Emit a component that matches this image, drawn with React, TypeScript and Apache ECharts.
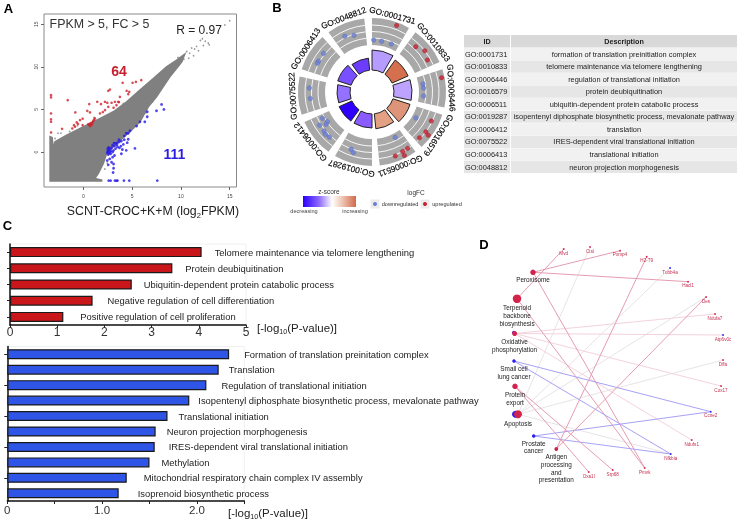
import React, { useEffect, useRef } from "react";
import * as echarts from "echarts";

const FONT = "Liberation Sans";

// Panel A: cloud outline and points, in log2 FPKM
const cloudOutline = [[-3.41,-3.4],[-3.41,1.8],[-3.2,1.7],[-3.07,0.43],[-2.9,1.21],[-1.71,1.99],[-0.34,2.77],[1.37,3.75],[3.07,4.73],[4.44,5.9],[5.8,7.27],[7.17,8.63],[8.53,10],[9.56,10.78],[10.4,11.5],[10.1,10.6],[9.9,10.3],[8.87,8.83],[7.5,6.48],[6.66,5.31],[5.8,3.55],[4.78,2.38],[3.41,1.02],[2.39,-0.16],[2.05,-1.33],[1.54,-2.5],[1.19,-3.09],[1.88,-3.3],[1.88,-3.4]];
const grayPoints = [[15,15.4],[14.5,14.9],[10.6,11.8],[10.9,11.6],[11.1,12.2],[11.4,12.1],[11.6,12.4],[12,13.1],[12.2,13.3],[12.5,13],[12.8,12.8],[12.9,12.6],[12.3,12.5],[11.8,11.9],[11.3,11.3],[10.8,11],[10.3,10.9],[10,10.7],[9.7,11.1],[3.5,4.9],[4.1,5.7],[7.9,7.5],[8.2,8.1],[8.5,8.9],[7.1,5.9],[6.4,4.6],[1.05,-2.6],[1.35,-2.1],[1.7,-1.4],[0.85,-3],[2.45,-1.3],[2.2,-2],[-2.6,2.2],[-2.3,2.2],[-2.9,1.6],[-1.4,2.4],[-0.6,3.1],[1.1,4.05]];
const redPoints = [[-3.31,6.68],[-3.31,6.41],[-3.31,4.53],[-3.31,3.83],[-3.31,3.55],[-3.31,2.3],[-1.6,6.09],[-2.18,2.73],[-0.82,4.65],[-1.13,2.77],[-0.96,3.16],[-0.68,3.48],[-0.34,3.75],[-0.07,3.91],[-0.85,2.97],[-0.07,3.16],[0.61,5.63],[0.68,4.65],[0.41,4.84],[0.51,3.28],[0.68,3.05],[0.89,3.28],[1.02,3.67],[1.19,3.95],[1.43,5.9],[1.81,5.63],[2.22,5.9],[2.56,7.19],[2.73,7.34],[2.46,5.78],[2.9,5.78],[3.24,5.9],[3.58,5.9],[3.75,6.48],[2.22,4.92],[2.56,5.31],[1.71,4.53],[4.03,8.13],[4.44,7.19],[4.71,7.07],[4.61,6.8],[5.05,8.13],[5.39,8.24],[5.94,8.44],[0.75,3.4],[0.6,3.2],[0.95,3.5],[1.1,3.8],[0.8,3.15],[-0.55,3.3],[3.1,5.2],[3.4,5.5],[3.65,5.85],[2.0,4.7]];
const bluePoints = [[2.6,-3.35],[2.8,-3.35],[3.24,-3.35],[3.4,-3.35],[3.5,-3.35],[4.16,-3.35],[4.71,-3.35],[7.58,-3.35],[8.02,5.59],[8.26,5],[7.5,4.84],[6.55,4.73],[6.55,4.14],[6.3,3.55],[5.8,3.55],[5.46,3.05],[5.29,0.43],[4.78,2.5],[4.6,2.2],[4.4,2.2],[4.2,1.9],[4.5,1.1],[4.6,1.5],[4.1,0.9],[3.9,1.3],[3.7,1.2],[3.5,1.1],[3.3,1],[3.2,0.7],[3,0.8],[2.9,0.5],[2.7,0.4],[2.6,0.2],[2.5,0.1],[2.45,-0.1],[2.55,-0.3],[2.7,0],[2.8,-0.2],[3,0],[3.1,0.2],[3.3,0.4],[3.5,0.6],[3.7,0.5],[4,0.3],[3.9,-0.2],[3.2,-0.4],[3,-0.6],[2.7,-0.8],[2.9,-1.2],[3.1,-1.4],[3.1,-1.9],[3.05,-2.4],[2.55,-1.5],[2.45,-1],[4.4,0.2],[3.85,0.7],[2.6,0.55],[2.5,0.4],[2.65,-0.15],[2.85,0.15],[3.15,1.05],[3.45,0.85],[4.2,1.45],[3.65,1.45]];

// Panel B
const goIds = ["GO:0001731","GO:0010833","GO:0006446","GO:0016579","GO:0006511","GO:0019287","GO:0006412","GO:0075522","GO:0006413","GO:0048812"];
const goDescriptions = ["formation of translation preinitiation complex","telomere maintenance via telomere lengthening","regulation of translational initiation","protein deubiquitination","ubiquitin-dependent protein catabolic process","isopentenyl diphosphate biosynthetic process, mevalonate pathway","translation","IRES-dependent viral translational initiation","translational initiation","neuron projection morphogenesis"];
const goBarHeights = [42,39.5,40,40,37,36,36,35,36,34];
const goBarColors = ["#B79CFF","#D5704F","#BDA3FF","#DE9478","#E4A083","#8A5CFF","#3000FF","#9472FF","#7A4FFF","#6C3DFF"];
const upDots = [[71,20.3],[63,44],[67,52],[64,60],[71,78.4],[66,116],[67,126.5],[71,127.6],[66,134],[66.7,147.7],[67,152.8],[71.4,153],[68,160]];
const downDots = [[52,1.8],[51.6,10.8],[51.8,21.9],[51.6,81],[51.8,85.6],[51.8,94.4],[51,120.6],[51,153],[61,200],[63.5,197],[56,242],[62,237.7],[53.6,236.4],[56,234.9],[61.8,230.9],[63,227.8],[62,223.5],[62.8,273.6],[62,264],[62,308.5],[61.7,300],[61.7,297.7],[62,334],[59.5,342.4]];

// Panel C
const redTerms = ["Telomere maintenance via telomere lengthening","Protein deubiquitination","Ubiquitin-dependent protein catabolic process","Negative regulation of cell differentiation","Positive regulation of cell proliferation"];
const redValues = [4.06,3.44,2.58,1.75,1.13];
const redLabelGaps = [13,13,12,15,17];
const blueTerms = ["Formation of translation preinitation complex","Translation","Regulation of translational initiation","Isopentenyl diphosphate biosynthetic process, mevalonate pathway","Translational initiation","Neuron projection morphogenesis","IRES-dependent viral translational initiation","Methylation","Mitochondrial respiratory chain complex IV assembly","Isoprenoid biosynthetic process"];
const blueValues = [2.34,2.23,2.10,1.92,1.69,1.565,1.555,1.5,1.26,1.175];
const blueLabelGaps = [15,10,15,9,11,11,14,12,17,19];

// Panel D: [name, x, y, size, colour, label lines, label gap]
const R = "#D2234C", B = "#2A1EF0";
const pathwayNodes: any[] = [
  ["Peroxisome",533,272.3,5.5,R,"Peroxisome",1],
  ["Terpenoid",517,298.7,8.5,R,"Terpenoid\nbackbone\nbiosynthesis",1],
  ["OxidativeB",513.8,332.6,3.5,B,"",0],
  ["Oxidative",514.6,333.5,5,R,"Oxidative\nphosphorylation",2],
  ["SmallCell",514,361,3.5,B,"Small cell\nlung cancer",2],
  ["ProteinExport",515,386.3,5.5,R,"Protein\nexport",1.5],
  ["ApoptosisB",515.5,414.3,7,B,"",0],
  ["Apoptosis",518,414.3,8,R,"Apoptosis",1.5],
  ["Prostate",533.7,436,3.5,B,"Prostate\ncancer",1.5],
  ["Antigen",556.3,449,3.8,R,"Antigen\nprocessing\nand\npresentation",2],
];
const geneNodes: any[] = [
  ["Mvd",563.7,249,R],["Ctsl",590,247,R],["Pxmp4",620,250.7,R],["H2-T9",646.7,256.7,R],["Tubb4a",670,268,B],
  ["Hacl1",688,281.7,R],["Des",706,297,R],["Ndufa7",715,314,R],["Atp6v0c",723,335,B],["Dffa",723,360,R],
  ["Cox17",721,386,R],["Ccne2",710.7,411.7,B],["Ndufs1",691.7,440,R],["Nfkbia",670.7,454,B],["Pmvk",644.7,468,R],
  ["Srp68",612.7,470,R],["Oxa1l",588.7,472,R],
];
const PINK = "#E59DB1", LIGHT = "#F3D3DC", BLUE = "#A7A2F6", GREY = "#E8E4E7";
const edgeList: [string,string,string][] = [
  ["Apoptosis","Ctsl",GREY],["Apoptosis","Tubb4a",GREY],["Apoptosis","Des",GREY],["Apoptosis","Dffa",GREY],["Apoptosis","Nfkbia",GREY],
  ["Oxidative","Ndufa7",LIGHT],["Oxidative","Atp6v0c",LIGHT],["Oxidative","Cox17",LIGHT],["Oxidative","Ndufs1",LIGHT],
  ["Peroxisome","Pxmp4",PINK],["Peroxisome","Hacl1",PINK],["Peroxisome","Pmvk",PINK],
  ["Terpenoid","Mvd",PINK],["Terpenoid","Pmvk",PINK],
  ["SmallCell","Ccne2",BLUE],["SmallCell","Nfkbia",BLUE],["Prostate","Ccne2",BLUE],["Prostate","Nfkbia",BLUE],
  ["ProteinExport","Srp68",PINK],["ProteinExport","Oxa1l",PINK],
  ["Antigen","H2-T9",PINK],["Antigen","Des",PINK],
];

const SECTOR = 36, SPAN = 30;
const rad = (deg: number) => ((deg - 90) * Math.PI) / 180;

function centerOf(params: any) {
  return { cx: params.coordSys.cx, cy: params.coordSys.cy };
}

function buildOption(): any {
  const text = (x: number, y: number, t: string, fontSize: number, extra: any = {}) => ({
    type: "text", x, y, silent: true,
    style: { text: t, fontSize, fontFamily: FONT, fill: "#222", align: "center", verticalAlign: "middle", ...extra },
  });
  const rect = (x: number, y: number, width: number, height: number, fill: any) => ({
    type: "rect", silent: true, shape: { x, y, width, height }, style: { fill },
  });

  const tableCells: any[] = [rect(464, 35, 46, 12.5, "#D9D9D9"), rect(511, 35, 226, 12.5, "#D9D9D9"),
    text(487, 41.3, "ID", 7.2, { fontWeight: "bold" }), text(624, 41.3, "Description", 7.2, { fontWeight: "bold" })];
  goIds.forEach((id, i) => {
    const y = 47.9 + i * 12.55;
    const fill = i % 2 === 0 ? "#F1F1F1" : "#E6E6E6";
    tableCells.push(rect(464, y, 46, 12.2, fill), rect(511, y, 226, 12.2, fill));
    tableCells.push(text(465, y + 6.2, id, 7.4, { align: "left" }), text(624, y + 6.2, goDescriptions[i], 7.4));
  });

  const axisTitle = (x: number, y: number, before: string, sub: string, after: string, size: number) => ({
    type: "text", x, y, silent: true,
    style: {
      text: `{a|${before}}{s|${sub}}{a|${after}}`, align: "center", verticalAlign: "middle",
      fontFamily: FONT, fill: "#222",
      rich: {
        a: { fontSize: size, fontFamily: FONT, fill: "#222", lineHeight: size + 4 },
        s: { fontSize: size * 0.62, fontFamily: FONT, fill: "#222", verticalAlign: "bottom", lineHeight: size + 4 },
      },
    },
  });

  const graphic = [
    text(8.5, 8, "A", 13, { fontWeight: "bold", fill: "#000" }),
    text(277, 7, "B", 13, { fontWeight: "bold", fill: "#000" }),
    text(7.5, 225, "C", 13, { fontWeight: "bold", fill: "#000" }),
    text(484, 244, "D", 13, { fontWeight: "bold", fill: "#000" }),
    text(99.5, 24, "FPKM > 5, FC > 5", 12.4, { fill: "#333" }),
    text(199, 30, "R = 0.97", 12, { fill: "#222" }),
    text(119, 71, "64", 14, { fontWeight: "bold", fill: "#C8202F" }),
    text(174.5, 154, "111", 14, { fontWeight: "bold", fill: "#2A1EE0" }),
    axisTitle(153, 211, "SCNT-CROC+K+M (log", "2", "FPKM)", 12.3),
    axisTitle(297, 328, "[-log", "10", "(P-value)]", 11.5),
    axisTitle(268, 513, "[-log", "10", "(P-value)]", 11.5),
    text(329, 191.5, "z-score", 6.5, { fill: "#333" }),
    text(416, 192, "logFC", 6.5, { fill: "#333" }),
    rect(303, 196, 53, 11, {
      type: "linear", x: 0, y: 0, x2: 1, y2: 0,
      colorStops: [
        { offset: 0, color: "#2A00FF" }, { offset: 0.3, color: "#8C68FF" }, { offset: 0.55, color: "#FFFFFF" },
        { offset: 0.75, color: "#EDC3AF" }, { offset: 1, color: "#D2694A" },
      ],
    }),
    text(304, 211, "decreasing", 5.6, { fill: "#444" }),
    text(355, 211, "increasing", 5.6, { fill: "#444" }),
    rect(370.5, 199.5, 9, 9, "#EBEBEB"),
    rect(420.5, 199.5, 9, 9, "#EBEBEB"),
    { type: "circle", silent: true, shape: { cx: 375, cy: 204, r: 2 }, style: { fill: "#6B7FD8" } },
    { type: "circle", silent: true, shape: { cx: 425, cy: 204, r: 2 }, style: { fill: "#C8202F" } },
    text(400, 204, "downregulated", 5.6, { fill: "#333" }),
    text(447, 204, "upregulated", 5.6, { fill: "#333" }),
    ...tableCells,
  ];

  const hiddenAxis = { show: false };

  const barAxisY = (gridIndex: number, data: string[]) => ({
    type: "category", gridIndex, data, inverse: true,
    axisLine: { onZero: false, lineStyle: { color: "#111", width: 1.5 } },
    axisTick: { show: true, length: 3, alignWithLabel: true, lineStyle: { color: "#222" } },
    axisLabel: { show: false }, splitLine: { show: false },
  });
  const barSeries = (idx: number, values: number[], terms: string[], gaps: number[], color: string) => ({
    type: "bar", xAxisIndex: idx, yAxisIndex: idx, barWidth: 10,
    itemStyle: { color, borderColor: "#1A1A1A", borderWidth: 1.2 },
    data: values.map((v, i) => ({
      value: v,
      label: { show: true, position: "right", distance: gaps[i], formatter: terms[i], fontSize: 9.4, fontFamily: FONT, color: "#222" },
    })),
  });

  const graphNodes = [
    ...pathwayNodes.map((n) => ({
      name: n[0], value: [n[1], n[2]], symbolSize: n[3], itemStyle: { color: n[4] },
      label: n[5]
        ? { show: true, position: "bottom", distance: n[6], formatter: n[5], fontSize: 6.4, lineHeight: 7.7, fontFamily: FONT, color: "#222", align: "center" }
        : { show: false },
    })),
    ...geneNodes.map((n) => ({
      name: n[0], value: [n[1], n[2]], symbolSize: 1.8, itemStyle: { color: n[3] },
      label: { show: true, position: "bottom", distance: 0.8, formatter: n[0], fontSize: 4.6, fontFamily: FONT, color: "#C4304F" },
    })),
  ];

  return {
    animation: false,
    backgroundColor: "#fff",
    textStyle: { fontFamily: FONT },
    grid: [
      { left: 44, top: 14, width: 192.5, height: 173, show: true, borderColor: "#8A8A8A", borderWidth: 1, backgroundColor: "transparent" },
      { left: 10, top: 244, width: 236, height: 81, show: true, borderColor: "#F0F0F0", borderWidth: 1, backgroundColor: "transparent" },
      { left: 7.3, top: 346.5, width: 237, height: 154.5, show: true, borderColor: "#F0F0F0", borderWidth: 1, backgroundColor: "transparent" },
      { left: 480, top: 235, width: 259, height: 286 },
    ],
    xAxis: [
      {
        type: "value", gridIndex: 0, min: -4.03, max: 15.7,
        axisLine: { show: false, onZero: false }, splitLine: { show: false },
        axisTick: { show: true, length: 3, lineStyle: { color: "#666" }, customValues: [0, 5, 10, 15] },
        axisLabel: { fontSize: 5, color: "#444", margin: 6, customValues: [0, 5, 10, 15] },
      },
      {
        type: "value", gridIndex: 1, min: 0, max: 5, interval: 1,
        axisLine: { show: true, onZero: false, lineStyle: { color: "#111", width: 1.5 } }, splitLine: { show: false },
        axisTick: { show: true, length: 3, lineStyle: { color: "#222" } },
        axisLabel: { fontSize: 12, color: "#333", margin: 1, showMinLabel: true, showMaxLabel: true },
      },
      {
        type: "value", gridIndex: 2, min: 0, max: 2.5, interval: 0.5,
        axisLine: { show: true, onZero: false, lineStyle: { color: "#111", width: 1.5 } }, splitLine: { show: false },
        axisTick: { show: true, length: 3, lineStyle: { color: "#222" } },
        axisLabel: { fontSize: 11.5, color: "#333", margin: 3, formatter: (v: number) => (v === 0 ? "0" : v % 1 === 0 ? v.toFixed(1) : "") },
      },
      { type: "value", gridIndex: 3, min: 480, max: 739, ...hiddenAxis },
    ],
    yAxis: [
      {
        type: "value", gridIndex: 0, min: -4.1, max: 16.2,
        axisLine: { show: false, onZero: false }, splitLine: { show: false },
        axisTick: { show: true, length: 3, lineStyle: { color: "#666" }, customValues: [0, 5, 10, 15] },
        axisLabel: { fontSize: 5, color: "#444", margin: 6, rotate: 90, customValues: [0, 5, 10, 15] },
      },
      barAxisY(1, redTerms),
      barAxisY(2, blueTerms),
      { type: "value", gridIndex: 3, min: 235, max: 521, inverse: true, ...hiddenAxis },
    ],
    polar: { center: [372, 92], radius: [0, 74] },
    angleAxis: { type: "value", min: 0, max: 360, startAngle: 90, clockwise: true, show: false },
    radiusAxis: { type: "value", min: 0, max: 74, show: false },
    graphic,
    series: [
      {
        type: "custom", coordinateSystem: "cartesian2d", xAxisIndex: 0, yAxisIndex: 0, silent: true,
        data: [0],
        renderItem: (_p: any, api: any) => ({
          type: "polygon",
          shape: { points: cloudOutline.map((d) => api.coord(d)) },
          style: { fill: "#808080", stroke: "#808080", lineWidth: 1.5 },
        }),
      },
      { type: "scatter", xAxisIndex: 0, yAxisIndex: 0, symbolSize: 1.7, itemStyle: { color: "#808080" }, data: grayPoints },
      { type: "scatter", xAxisIndex: 0, yAxisIndex: 0, symbolSize: 2.6, itemStyle: { color: "#D0202A" }, data: redPoints },
      { type: "scatter", xAxisIndex: 0, yAxisIndex: 0, symbolSize: 2.8, itemStyle: { color: "#2418E8" }, data: bluePoints },

      // outer grey ring with its white guide arcs
      {
        type: "custom", coordinateSystem: "polar", silent: true,
        data: goIds.map((_, i) => i),
        renderItem: (params: any, api: any) => {
          const i = api.value(0);
          const { cx, cy } = centerOf(params);
          const a0 = rad(i * SECTOR), a1 = rad(i * SECTOR + SPAN);
          const arc = (r: number) => ({
            type: "arc",
            shape: { cx, cy, r, startAngle: a0, endAngle: a1, clockwise: true },
            style: { stroke: "#fff", lineWidth: 0.9, fill: "none" },
          });
          return {
            type: "group",
            children: [
              { type: "sector", shape: { cx, cy, r0: 47, r: 74, startAngle: a0, endAngle: a1, clockwise: true }, style: { fill: "#A8A8A8" } },
              arc(54), arc(60.5), arc(67),
            ],
          };
        },
      },
      // inner z-score bars
      {
        type: "custom", coordinateSystem: "polar", silent: true,
        data: goBarHeights.map((h, i) => [i, h]),
        renderItem: (params: any, api: any) => {
          const i = api.value(0);
          const { cx, cy } = centerOf(params);
          return {
            type: "sector",
            shape: { cx, cy, r0: 22, r: api.value(1), startAngle: rad(i * SECTOR), endAngle: rad(i * SECTOR + SPAN), clockwise: true },
            style: { fill: goBarColors[i], stroke: "#222", lineWidth: 1 },
          };
        },
      },
      { type: "scatter", coordinateSystem: "polar", symbolSize: 4.6, itemStyle: { color: "#6B7FD8", borderColor: "#3B4A9A", borderWidth: 0.3 }, data: downDots },
      { type: "scatter", coordinateSystem: "polar", symbolSize: 4.6, itemStyle: { color: "#C8202F", borderColor: "#8A1520", borderWidth: 0.3 }, data: upDots },
      // GO ids around the ring
      {
        type: "custom", coordinateSystem: "polar", silent: true, clip: false,
        data: goIds.map((_, i) => i),
        renderItem: (params: any, api: any) => {
          const i = api.value(0);
          const { cx, cy } = centerOf(params);
          const deg = i * SECTOR + SPAN / 2;
          const r = 79.5;
          return {
            type: "text",
            x: cx + r * Math.cos(rad(deg)),
            y: cy + r * Math.sin(rad(deg)),
            rotation: (-deg * Math.PI) / 180,
            style: { text: goIds[i], fontFamily: FONT, fontSize: 8.3, fill: "#000", stroke: "#000", lineWidth: 0.15, align: "center", verticalAlign: "middle" },
          };
        },
      },

      barSeries(1, redValues, redTerms, redLabelGaps, "#C8161B"),
      barSeries(2, blueValues, blueTerms, blueLabelGaps, "#2F55E6"),

      {
        type: "graph", coordinateSystem: "cartesian2d", xAxisIndex: 3, yAxisIndex: 3, layout: "none", silent: true,
        data: graphNodes,
        links: edgeList.map(([source, target, color]) => ({ source, target, lineStyle: { color, width: 1, opacity: 1, curveness: 0 } })),
      },
    ],
  };
}

export default function App() {
  const ref = useRef<HTMLDivElement>(null);
  useEffect(() => {
    const chart = echarts.init(ref.current!, undefined, { renderer: "svg" });
    chart.setOption(buildOption());
    return () => chart.dispose();
  }, []);
  return <div ref={ref} style={{ position: "fixed", left: 0, top: 0, width: 739, height: 521, background: "#fff", filter: "blur(0.35px)" }} />;
}
